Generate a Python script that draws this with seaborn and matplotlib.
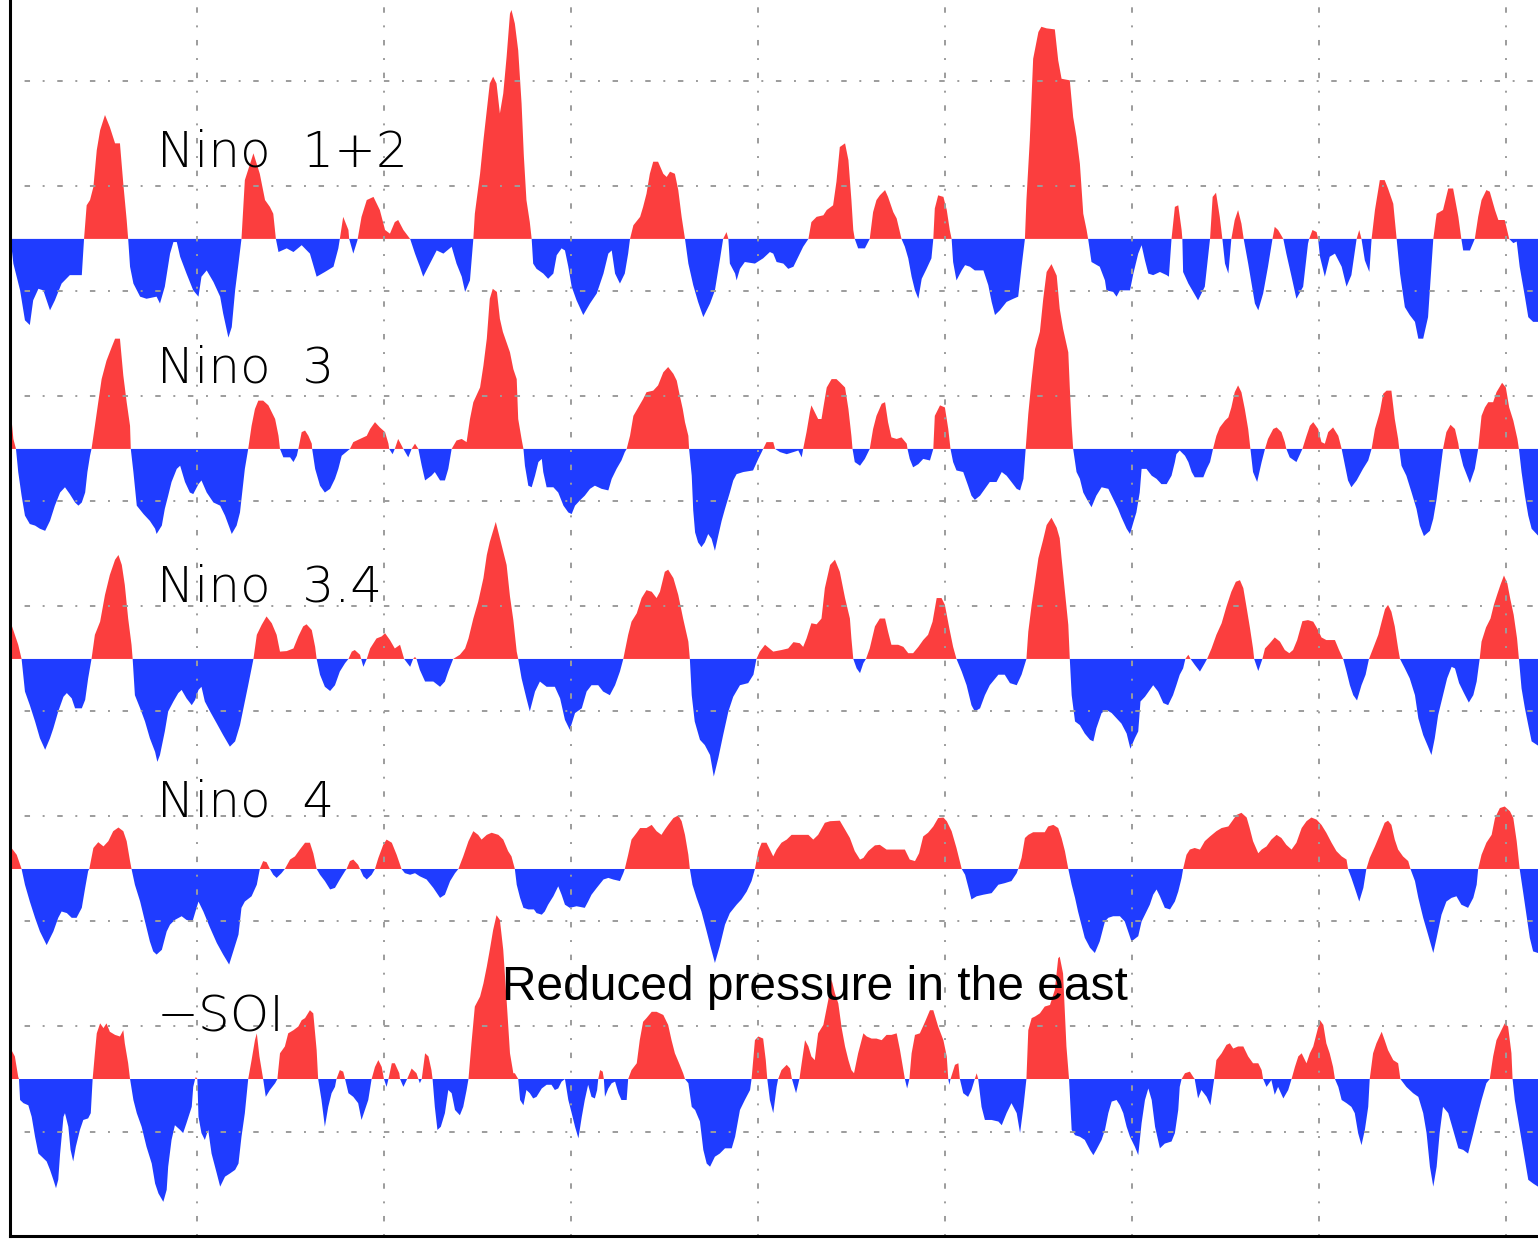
"""Stacked ENSO indices (Nino regions and -SOI), red above / blue below zero."""

import matplotlib
matplotlib.use("Agg")
import matplotlib.pyplot as plt
from matplotlib.ticker import MultipleLocator
import numpy as np
import seaborn as sns

# (decimal year, normalized anomaly)
NINO12 = [
    (1970.04, -0.15), (1970.09, -0.47), (1970.27, -0.98), (1970.40, -1.55), (1970.53, -1.64), (1970.62, -1.17),
    (1970.76, -0.95), (1970.89, -0.98), (1971.07, -1.36), (1971.20, -1.17), (1971.38, -0.85), (1971.60, -0.69),
    (1971.92, -0.69), (1971.98, 0), (1972.05, 0.64), (1972.14, 0.74), (1972.23, 0.99), (1972.32, 1.69),
    (1972.41, 2.07), (1972.54, 2.36), (1972.67, 2.13), (1972.81, 1.82), (1972.94, 1.82), (1973.03, 1.05),
    (1973.12, 0.36), (1973.16, 0), (1973.21, -0.53), (1973.30, -0.85), (1973.48, -1.10), (1973.65, -1.14),
    (1973.92, -1.10), (1974.01, -1.23), (1974.14, -0.91), (1974.28, -0.28), (1974.37, -0.06), (1974.46, -0.06),
    (1974.55, -0.34), (1974.72, -0.66), (1974.90, -0.98), (1975.04, -1.10), (1975.12, -0.72), (1975.26, -0.60),
    (1975.44, -0.82), (1975.62, -1.10), (1975.70, -1.42), (1975.84, -1.88), (1975.93, -1.68), (1976.02, -0.98),
    (1976.11, -0.47), (1976.19, 0), (1976.28, 1.12), (1976.51, 1.63), (1976.68, 1.24), (1976.82, 0.74),
    (1976.95, 0.61), (1977.04, 0.48), (1977.11, 0), (1977.18, -0.25), (1977.40, -0.18), (1977.58, -0.25),
    (1977.80, -0.12), (1978.02, -0.28), (1978.20, -0.72), (1978.42, -0.63), (1978.65, -0.53), (1978.78, -0.18),
    (1978.82, 0), (1978.91, 0.42), (1979.05, 0.17), (1979.07, 0), (1979.18, -0.28), (1979.29, -0.03),
    (1979.40, 0.42), (1979.54, 0.74), (1979.72, 0.80), (1979.89, 0.55), (1980.03, 0.17), (1980.16, 0.10),
    (1980.29, 0.32), (1980.38, 0.36), (1980.52, 0.17), (1980.70, 0), (1980.83, -0.28), (1980.96, -0.53),
    (1981.05, -0.72), (1981.23, -0.47), (1981.41, -0.22), (1981.59, -0.28), (1981.81, -0.15), (1981.94, -0.47),
    (1982.08, -0.72), (1982.17, -1.01), (1982.30, -0.79), (1982.39, 0), (1982.43, 0.48), (1982.57, 1.24),
    (1982.66, 1.88), (1982.75, 2.45), (1982.83, 2.96), (1982.92, 3.09), (1983.01, 2.96), (1983.10, 2.39),
    (1983.19, 2.77), (1983.28, 3.47), (1983.37, 4.29), (1983.41, 4.36), (1983.50, 4.10), (1983.59, 3.59),
    (1983.68, 2.58), (1983.74, 1.59), (1983.81, 0.74), (1983.90, 0.32), (1983.95, 0), (1983.99, -0.47),
    (1984.08, -0.57), (1984.26, -0.66), (1984.39, -0.76), (1984.53, -0.66), (1984.62, -0.31), (1984.75, -0.18),
    (1984.84, -0.22), (1984.93, -0.53), (1985.02, -0.91), (1985.15, -1.17), (1985.33, -1.45), (1985.51, -1.23),
    (1985.69, -1.04), (1985.87, -0.66), (1986.00, -0.28), (1986.09, -0.22), (1986.18, -0.66), (1986.31, -0.85),
    (1986.44, -0.66), (1986.53, -0.28), (1986.58, 0), (1986.67, 0.26), (1986.85, 0.42), (1986.93, 0.61),
    (1987.02, 0.86), (1987.11, 1.24), (1987.20, 1.47), (1987.33, 1.47), (1987.47, 1.24), (1987.56, 1.18),
    (1987.65, 1.28), (1987.78, 1.24), (1987.87, 0.93), (1987.96, 0.42), (1988.05, 0), (1988.14, -0.47),
    (1988.27, -0.88), (1988.40, -1.20), (1988.54, -1.49), (1988.72, -1.23), (1988.85, -0.98), (1988.98, -0.41),
    (1989.07, 0), (1989.16, 0.13), (1989.21, 0), (1989.25, -0.47), (1989.39, -0.66), (1989.43, -0.79),
    (1989.52, -0.57), (1989.65, -0.44), (1989.92, -0.47), (1990.14, -0.37), (1990.32, -0.25), (1990.41, -0.28),
    (1990.50, -0.44), (1990.68, -0.47), (1990.81, -0.57), (1990.95, -0.53), (1991.08, -0.34), (1991.21, -0.15),
    (1991.35, 0), (1991.43, 0.32), (1991.57, 0.42), (1991.75, 0.45), (1991.84, 0.55), (1992.01, 0.64),
    (1992.10, 1.09), (1992.19, 1.75), (1992.33, 1.82), (1992.42, 1.50), (1992.50, 0.74), (1992.55, 0.17),
    (1992.59, 0), (1992.68, -0.18), (1992.86, -0.18), (1992.99, 0), (1993.08, 0.51), (1993.17, 0.74),
    (1993.26, 0.83), (1993.40, 0.93), (1993.48, 0.80), (1993.62, 0.51), (1993.71, 0.39), (1993.84, 0),
    (1993.93, -0.15), (1994.02, -0.37), (1994.11, -0.72), (1994.20, -0.98), (1994.29, -1.14), (1994.38, -0.76),
    (1994.51, -0.57), (1994.64, -0.37), (1994.69, 0), (1994.73, 0.58), (1994.82, 0.83), (1994.96, 0.80),
    (1995.05, 0.55), (1995.13, 0.17), (1995.18, 0), (1995.22, -0.44), (1995.31, -0.79), (1995.45, -0.60),
    (1995.54, -0.50), (1995.67, -0.53), (1995.80, -0.60), (1996.03, -0.60), (1996.16, -0.88), (1996.25, -1.20),
    (1996.34, -1.45), (1996.47, -1.36), (1996.65, -1.20), (1996.83, -1.14), (1996.96, -1.10), (1997.05, -0.53),
    (1997.14, 0), (1997.18, 0.74), (1997.27, 1.88), (1997.36, 3.43), (1997.50, 3.94), (1997.58, 4.04),
    (1997.72, 4.01), (1997.94, 3.99), (1998.03, 3.40), (1998.12, 3.05), (1998.34, 3.02), (1998.43, 2.32),
    (1998.52, 1.94), (1998.61, 1.43), (1998.70, 0.48), (1998.79, 0.17), (1998.83, 0), (1998.92, -0.44),
    (1999.14, -0.53), (1999.28, -0.79), (1999.32, -0.98), (1999.50, -1.01), (1999.59, -1.10), (1999.68, -0.98),
    (1999.95, -0.98), (2000.04, -0.66), (2000.17, -0.28), (2000.26, -0.12), (2000.35, -0.41), (2000.44, -0.66),
    (2000.57, -0.69), (2000.75, -0.63), (2000.93, -0.69), (2000.99, -0.72), (2001.06, 0), (2001.15, 0.61),
    (2001.24, 0.64), (2001.33, 0.17), (2001.35, 0), (2001.37, -0.63), (2001.51, -0.85), (2001.64, -1.01),
    (2001.77, -1.17), (2001.95, -0.91), (2002.09, 0), (2002.16, 0.80), (2002.25, 0.88), (2002.35, 0.42),
    (2002.42, 0), (2002.49, -0.47), (2002.58, -0.66), (2002.66, 0), (2002.75, 0.36), (2002.84, 0.55),
    (2002.93, 0.29), (2002.99, 0), (2003.11, -0.47), (2003.20, -0.85), (2003.29, -1.23), (2003.38, -1.36),
    (2003.51, -1.04), (2003.64, -0.53), (2003.76, 0), (2003.82, 0.23), (2003.91, 0.17), (2004.05, 0),
    (2004.13, -0.28), (2004.27, -0.72), (2004.40, -1.14), (2004.58, -0.91), (2004.71, -0.09), (2004.74, 0),
    (2004.83, 0.17), (2004.94, 0.13), (2004.98, 0), (2005.03, -0.34), (2005.16, -0.72), (2005.29, -0.34),
    (2005.43, -0.28), (2005.61, -0.53), (2005.74, -0.91), (2005.87, -0.69), (2006.01, 0), (2006.08, 0.17),
    (2006.14, 0), (2006.23, -0.41), (2006.35, -0.63), (2006.41, 0), (2006.50, 0.55), (2006.63, 1.12),
    (2006.76, 1.12), (2006.85, 0.96), (2006.99, 0.67), (2007.08, 0), (2007.17, -0.66), (2007.30, -1.30),
    (2007.43, -1.45), (2007.57, -1.58), (2007.66, -1.90), (2007.79, -1.90), (2007.92, -1.49), (2008.01, -0.53),
    (2008.06, 0), (2008.15, 0.48), (2008.32, 0.55), (2008.46, 0.96), (2008.59, 0.96), (2008.73, 0.42),
    (2008.81, 0), (2008.86, -0.22), (2009.04, -0.22), (2009.17, 0), (2009.26, 0.42), (2009.35, 0.74),
    (2009.48, 0.93), (2009.57, 0.90), (2009.71, 0.55), (2009.80, 0.36), (2009.97, 0.36), (2010.09, 0),
    (2010.20, -0.08), (2010.29, -0.05), (2010.37, -0.53), (2010.51, -1.10), (2010.60, -1.49), (2010.73, -1.58),
    (2010.86, -1.58),
]

NINO3 = [
    (1970.04, 0.57), (1970.09, 0.19), (1970.16, 0), (1970.22, -0.44), (1970.31, -0.89), (1970.40, -1.27),
    (1970.53, -1.43), (1970.67, -1.46), (1970.80, -1.52), (1970.94, -1.56), (1971.07, -1.37), (1971.20, -1.08),
    (1971.34, -0.83), (1971.47, -0.73), (1971.60, -0.86), (1971.74, -1.02), (1971.83, -1.08), (1971.92, -1.02),
    (1972.01, -0.83), (1972.07, -0.44), (1972.14, -0.13), (1972.18, 0), (1972.27, 0.44), (1972.36, 0.89),
    (1972.45, 1.33), (1972.58, 1.68), (1972.72, 1.94), (1972.81, 2.10), (1972.94, 2.10), (1973.03, 1.40),
    (1973.12, 0.89), (1973.21, 0.44), (1973.23, 0), (1973.30, -0.44), (1973.39, -1.08), (1973.57, -1.24),
    (1973.74, -1.37), (1973.88, -1.52), (1973.92, -1.62), (1974.06, -1.46), (1974.14, -1.14), (1974.23, -0.89),
    (1974.32, -0.63), (1974.46, -0.38), (1974.55, -0.32), (1974.68, -0.63), (1974.81, -0.83), (1974.90, -0.86),
    (1975.04, -0.67), (1975.12, -0.60), (1975.26, -0.83), (1975.44, -1.02), (1975.62, -1.08), (1975.75, -1.27),
    (1975.88, -1.52), (1975.93, -1.62), (1976.06, -1.46), (1976.15, -1.21), (1976.28, -0.38), (1976.37, 0),
    (1976.46, 0.44), (1976.55, 0.76), (1976.64, 0.92), (1976.77, 0.92), (1976.91, 0.83), (1977.00, 0.70),
    (1977.09, 0.57), (1977.18, 0.25), (1977.22, 0), (1977.31, -0.16), (1977.49, -0.16), (1977.58, -0.25),
    (1977.67, -0.13), (1977.71, 0), (1977.80, 0.32), (1977.89, 0.35), (1977.98, 0.25), (1978.07, 0.10),
    (1978.08, 0), (1978.16, -0.38), (1978.29, -0.70), (1978.42, -0.83), (1978.56, -0.76), (1978.69, -0.57),
    (1978.78, -0.38), (1978.87, -0.13), (1979.09, 0), (1979.18, 0.13), (1979.36, 0.19), (1979.54, 0.25),
    (1979.63, 0.38), (1979.76, 0.51), (1979.89, 0.41), (1980.03, 0.32), (1980.12, 0.10), (1980.14, 0),
    (1980.23, -0.10), (1980.29, 0), (1980.38, 0.19), (1980.52, 0), (1980.65, -0.16), (1980.74, 0),
    (1980.83, 0.10), (1980.92, 0), (1981.01, -0.32), (1981.10, -0.60), (1981.27, -0.51), (1981.36, -0.44),
    (1981.50, -0.60), (1981.63, -0.60), (1981.72, -0.38), (1981.81, 0), (1981.94, 0.16), (1982.08, 0.19),
    (1982.21, 0.13), (1982.30, 0.57), (1982.39, 0.89), (1982.57, 1.17), (1982.66, 1.59), (1982.75, 2.10),
    (1982.83, 2.86), (1982.91, 3.05), (1983.02, 2.99), (1983.10, 2.48), (1983.18, 2.23), (1983.37, 1.84),
    (1983.46, 1.52), (1983.55, 1.33), (1983.59, 0.57), (1983.68, 0.19), (1983.73, 0), (1983.77, -0.32),
    (1983.86, -0.70), (1983.95, -0.73), (1984.04, -0.51), (1984.13, -0.25), (1984.22, -0.19), (1984.26, -0.44),
    (1984.35, -0.73), (1984.53, -0.73), (1984.66, -0.83), (1984.80, -1.08), (1984.93, -1.21), (1985.02, -1.24),
    (1985.11, -1.08), (1985.24, -0.98), (1985.37, -0.89), (1985.51, -0.76), (1985.64, -0.70), (1985.82, -0.76),
    (1986.00, -0.79), (1986.09, -0.57), (1986.22, -0.38), (1986.35, -0.22), (1986.44, -0.06), (1986.49, 0),
    (1986.58, 0.25), (1986.67, 0.63), (1986.80, 0.79), (1986.93, 0.95), (1987.02, 1.08), (1987.20, 1.11),
    (1987.33, 1.21), (1987.47, 1.46), (1987.60, 1.56), (1987.74, 1.43), (1987.83, 1.30), (1987.91, 1.02),
    (1987.99, 0.76), (1988.05, 0.51), (1988.14, 0.25), (1988.16, 0), (1988.23, -0.51), (1988.27, -1.17),
    (1988.32, -1.59), (1988.40, -1.78), (1988.49, -1.87), (1988.58, -1.78), (1988.67, -1.62), (1988.76, -1.71),
    (1988.85, -1.94), (1988.94, -1.65), (1989.03, -1.37), (1989.12, -1.14), (1989.25, -0.83), (1989.34, -0.60),
    (1989.43, -0.48), (1989.61, -0.44), (1989.87, -0.41), (1990.01, -0.19), (1990.10, -0.06), (1990.14, 0),
    (1990.23, 0.13), (1990.41, 0.13), (1990.46, 0), (1990.59, -0.06), (1990.77, -0.10), (1990.95, -0.06),
    (1991.08, -0.03), (1991.17, -0.16), (1991.21, 0), (1991.30, 0.32), (1991.39, 0.70), (1991.43, 0.83),
    (1991.52, 0.70), (1991.61, 0.57), (1991.70, 0.57), (1991.75, 0.79), (1991.84, 1.17), (1991.97, 1.33),
    (1992.10, 1.33), (1992.19, 1.27), (1992.33, 1.17), (1992.42, 0.76), (1992.50, 0.25), (1992.53, 0),
    (1992.59, -0.25), (1992.73, -0.32), (1992.86, -0.19), (1992.99, 0), (1993.08, 0.38), (1993.17, 0.63),
    (1993.31, 0.86), (1993.40, 0.89), (1993.48, 0.51), (1993.57, 0.22), (1993.71, 0.19), (1993.84, 0.22),
    (1993.98, 0.10), (1994.00, 0), (1994.06, -0.19), (1994.15, -0.35), (1994.29, -0.29), (1994.42, -0.19),
    (1994.60, -0.22), (1994.69, 0), (1994.73, 0.63), (1994.87, 0.83), (1995.00, 0.79), (1995.09, 0.38),
    (1995.15, 0), (1995.22, -0.25), (1995.31, -0.41), (1995.49, -0.44), (1995.62, -0.70), (1995.71, -0.89),
    (1995.80, -0.97), (1995.94, -0.89), (1996.07, -0.76), (1996.20, -0.63), (1996.38, -0.63), (1996.52, -0.44),
    (1996.65, -0.51), (1996.78, -0.63), (1996.92, -0.76), (1997.01, -0.79), (1997.10, -0.57), (1997.16, 0),
    (1997.23, 0.67), (1997.32, 1.33), (1997.41, 1.90), (1997.54, 2.23), (1997.63, 2.86), (1997.72, 3.37),
    (1997.85, 3.52), (1997.99, 3.30), (1998.07, 2.67), (1998.16, 2.29), (1998.30, 1.84), (1998.34, 1.17),
    (1998.39, 0.44), (1998.43, 0), (1998.52, -0.44), (1998.61, -0.57), (1998.70, -0.83), (1998.79, -0.95),
    (1998.92, -1.11), (1999.05, -0.89), (1999.19, -0.73), (1999.37, -0.76), (1999.50, -0.95), (1999.63, -1.14),
    (1999.72, -1.30), (1999.86, -1.52), (1999.95, -1.62), (2000.04, -1.40), (2000.12, -1.21), (2000.21, -0.83),
    (2000.26, -0.38), (2000.39, -0.38), (2000.53, -0.51), (2000.66, -0.57), (2000.79, -0.67), (2000.93, -0.67),
    (2001.06, -0.51), (2001.15, -0.25), (2001.19, -0.10), (2001.28, -0.03), (2001.42, -0.13), (2001.51, -0.25),
    (2001.60, -0.44), (2001.68, -0.54), (2001.91, -0.54), (2002.00, -0.38), (2002.09, -0.25), (2002.17, 0),
    (2002.26, 0.25), (2002.35, 0.41), (2002.49, 0.54), (2002.58, 0.60), (2002.66, 0.79), (2002.75, 1.08),
    (2002.84, 1.21), (2002.93, 1.08), (2003.02, 0.76), (2003.11, 0.38), (2003.17, 0), (2003.24, -0.44),
    (2003.35, -0.63), (2003.47, -0.25), (2003.56, 0), (2003.64, 0.19), (2003.78, 0.38), (2003.87, 0.41),
    (2004.00, 0.32), (2004.09, 0.13), (2004.13, 0), (2004.22, -0.16), (2004.40, -0.25), (2004.56, 0),
    (2004.67, 0.25), (2004.76, 0.44), (2004.85, 0.51), (2004.98, 0.38), (2005.07, 0.13), (2005.16, 0.10),
    (2005.25, 0.32), (2005.38, 0.41), (2005.52, 0.25), (2005.61, 0), (2005.70, -0.32), (2005.78, -0.60),
    (2005.87, -0.73), (2006.01, -0.60), (2006.18, -0.38), (2006.32, -0.22), (2006.41, 0), (2006.50, 0.38),
    (2006.63, 0.70), (2006.72, 1.05), (2006.81, 1.11), (2006.94, 1.11), (2007.03, 0.57), (2007.12, 0.19),
    (2007.15, 0), (2007.21, -0.32), (2007.34, -0.51), (2007.48, -0.83), (2007.61, -1.14), (2007.70, -1.46),
    (2007.81, -1.66), (2007.97, -1.56), (2008.06, -1.33), (2008.15, -0.95), (2008.23, -0.51), (2008.32, 0),
    (2008.41, 0.32), (2008.52, 0.46), (2008.64, 0.38), (2008.73, 0.10), (2008.75, 0), (2008.86, -0.32),
    (2009.04, -0.65), (2009.17, -0.38), (2009.26, 0), (2009.35, 0.63), (2009.44, 0.79), (2009.53, 0.89),
    (2009.66, 0.89), (2009.75, 1.08), (2009.90, 1.26), (2010.00, 1.17), (2010.09, 0.79), (2010.20, 0.54),
    (2010.31, 0.19), (2010.35, 0), (2010.42, -0.44), (2010.51, -0.89), (2010.60, -1.27), (2010.69, -1.52),
    (2010.86, -1.65),
]

NINO34 = [
    (1970.04, 0.65), (1970.13, 0.46), (1970.22, 0.27), (1970.31, 0), (1970.40, -0.62), (1970.53, -0.88),
    (1970.67, -1.19), (1970.80, -1.51), (1970.94, -1.73), (1971.07, -1.51), (1971.16, -1.32), (1971.29, -1.00),
    (1971.43, -0.72), (1971.52, -0.65), (1971.65, -0.75), (1971.74, -0.94), (1971.92, -0.94), (1972.01, -0.78),
    (1972.09, -0.37), (1972.18, 0), (1972.27, 0.46), (1972.41, 0.71), (1972.54, 1.22), (1972.67, 1.60),
    (1972.81, 1.89), (1972.90, 1.98), (1972.99, 1.79), (1973.07, 1.41), (1973.16, 0.77), (1973.25, 0.27),
    (1973.28, 0), (1973.34, -0.69), (1973.48, -0.94), (1973.61, -1.19), (1973.74, -1.51), (1973.88, -1.77),
    (1973.94, -1.96), (1974.01, -1.83), (1974.14, -1.38), (1974.23, -1.00), (1974.37, -0.81), (1974.50, -0.65),
    (1974.59, -0.59), (1974.72, -0.75), (1974.86, -0.88), (1974.95, -0.78), (1975.04, -0.59), (1975.12, -0.53),
    (1975.21, -0.81), (1975.35, -1.00), (1975.53, -1.23), (1975.70, -1.45), (1975.88, -1.67), (1976.02, -1.57),
    (1976.15, -1.26), (1976.28, -0.81), (1976.37, -0.50), (1976.46, -0.18), (1976.51, 0), (1976.60, 0.46),
    (1976.73, 0.65), (1976.86, 0.81), (1977.00, 0.68), (1977.13, 0.46), (1977.22, 0.14), (1977.40, 0.15),
    (1977.58, 0.20), (1977.71, 0.43), (1977.84, 0.62), (1977.93, 0.66), (1978.07, 0.55), (1978.16, 0.23),
    (1978.20, 0), (1978.29, -0.30), (1978.42, -0.53), (1978.56, -0.61), (1978.69, -0.50), (1978.82, -0.24),
    (1978.96, -0.08), (1979.05, 0), (1979.14, 0.14), (1979.22, 0.17), (1979.36, 0.08), (1979.39, 0),
    (1979.45, -0.15), (1979.54, 0), (1979.63, 0.20), (1979.80, 0.39), (1979.94, 0.43), (1980.03, 0.49),
    (1980.16, 0.36), (1980.29, 0.20), (1980.43, 0.27), (1980.54, 0), (1980.70, -0.15), (1980.78, 0),
    (1980.83, 0.04), (1980.87, 0), (1980.96, -0.21), (1981.10, -0.43), (1981.32, -0.43), (1981.50, -0.53),
    (1981.63, -0.43), (1981.72, -0.24), (1981.85, 0), (1982.03, 0.08), (1982.17, 0.20), (1982.26, 0.39),
    (1982.39, 0.77), (1982.52, 1.09), (1982.66, 1.54), (1982.75, 1.98), (1982.83, 2.23), (1982.99, 2.61),
    (1983.10, 2.30), (1983.28, 1.79), (1983.37, 1.19), (1983.46, 0.74), (1983.55, 0.14), (1983.59, 0),
    (1983.68, -0.37), (1983.81, -0.75), (1983.90, -1.00), (1984.04, -0.62), (1984.17, -0.43), (1984.35, -0.53),
    (1984.57, -0.53), (1984.71, -0.75), (1984.84, -1.16), (1984.97, -1.35), (1985.11, -1.03), (1985.29, -0.94),
    (1985.42, -0.62), (1985.55, -0.50), (1985.73, -0.50), (1985.86, -0.62), (1986.04, -0.69), (1986.18, -0.50),
    (1986.31, -0.24), (1986.40, 0), (1986.53, 0.46), (1986.62, 0.71), (1986.76, 0.87), (1986.89, 1.16),
    (1987.02, 1.31), (1987.16, 1.28), (1987.29, 1.16), (1987.38, 1.28), (1987.51, 1.66), (1987.60, 1.70),
    (1987.74, 1.54), (1987.87, 1.22), (1988.00, 0.77), (1988.14, 0.33), (1988.18, 0), (1988.23, -0.69),
    (1988.31, -1.19), (1988.45, -1.54), (1988.58, -1.64), (1988.72, -1.83), (1988.82, -2.24), (1988.94, -1.89),
    (1989.07, -1.45), (1989.21, -1.00), (1989.34, -0.72), (1989.52, -0.50), (1989.74, -0.46), (1989.88, -0.30),
    (1989.96, 0), (1990.05, 0.14), (1990.19, 0.27), (1990.41, 0.14), (1990.63, 0.17), (1990.81, 0.20),
    (1990.95, 0.32), (1991.12, 0.30), (1991.21, 0.23), (1991.30, 0.39), (1991.43, 0.68), (1991.57, 0.66),
    (1991.70, 0.77), (1991.79, 1.35), (1991.93, 1.79), (1992.06, 1.89), (1992.19, 1.66), (1992.33, 1.16),
    (1992.46, 0.77), (1992.50, 0.39), (1992.55, 0), (1992.64, -0.18), (1992.73, -0.27), (1992.82, -0.08),
    (1992.89, 0), (1992.99, 0.20), (1993.13, 0.62), (1993.26, 0.77), (1993.40, 0.77), (1993.48, 0.52),
    (1993.57, 0.27), (1993.75, 0.27), (1993.89, 0.23), (1994.02, 0.11), (1994.15, 0.11), (1994.29, 0.23),
    (1994.42, 0.36), (1994.55, 0.46), (1994.67, 0.71), (1994.78, 1.16), (1994.91, 1.16), (1995.00, 1.03),
    (1995.12, 0.58), (1995.22, 0.23), (1995.31, 0), (1995.45, -0.24), (1995.58, -0.50), (1995.71, -0.88),
    (1995.80, -1.00), (1995.94, -0.94), (1996.07, -0.69), (1996.20, -0.50), (1996.43, -0.30), (1996.60, -0.30),
    (1996.74, -0.46), (1996.92, -0.50), (1997.05, -0.30), (1997.18, 0), (1997.23, 0.52), (1997.32, 1.03),
    (1997.41, 1.47), (1997.50, 1.92), (1997.62, 2.25), (1997.72, 2.55), (1997.85, 2.69), (1997.99, 2.50),
    (1998.07, 2.30), (1998.12, 1.92), (1998.21, 1.28), (1998.30, 0.65), (1998.34, 0), (1998.39, -0.69),
    (1998.48, -1.19), (1998.61, -1.26), (1998.74, -1.42), (1998.88, -1.54), (1998.97, -1.57), (1999.05, -1.32),
    (1999.19, -1.03), (1999.32, -0.97), (1999.46, -1.03), (1999.59, -1.13), (1999.72, -1.23), (1999.86, -1.42),
    (1999.96, -1.71), (2000.08, -1.51), (2000.17, -1.38), (2000.23, -0.81), (2000.35, -0.72), (2000.48, -0.59),
    (2000.57, -0.50), (2000.70, -0.62), (2000.84, -0.84), (2000.97, -0.88), (2001.10, -0.69), (2001.19, -0.50),
    (2001.28, -0.30), (2001.37, -0.18), (2001.43, 0), (2001.51, 0.08), (2001.57, 0), (2001.68, -0.11),
    (2001.82, -0.24), (2001.95, -0.08), (2002.01, 0), (2002.13, 0.20), (2002.26, 0.46), (2002.40, 0.68),
    (2002.53, 1.00), (2002.66, 1.28), (2002.78, 1.47), (2002.89, 1.50), (2002.98, 1.35), (2003.07, 0.97),
    (2003.16, 0.58), (2003.24, 0.20), (2003.27, 0), (2003.38, -0.23), (2003.49, 0), (2003.56, 0.20),
    (2003.69, 0.30), (2003.82, 0.41), (2003.96, 0.33), (2004.09, 0.17), (2004.21, 0.11), (2004.31, 0.17),
    (2004.42, 0.36), (2004.56, 0.72), (2004.71, 0.74), (2004.85, 0.71), (2004.98, 0.55), (2005.07, 0.41),
    (2005.20, 0.36), (2005.43, 0.36), (2005.54, 0.17), (2005.65, 0), (2005.74, -0.24), (2005.83, -0.50),
    (2005.92, -0.69), (2006.02, -0.79), (2006.14, -0.50), (2006.25, -0.30), (2006.34, 0), (2006.45, 0.20),
    (2006.59, 0.46), (2006.68, 0.71), (2006.77, 0.95), (2006.85, 1.03), (2006.94, 0.90), (2007.03, 0.62),
    (2007.12, 0.20), (2007.17, 0), (2007.30, -0.18), (2007.43, -0.37), (2007.57, -0.69), (2007.66, -1.13),
    (2007.79, -1.45), (2007.92, -1.67), (2008.01, -1.83), (2008.10, -1.51), (2008.19, -1.07), (2008.32, -0.69),
    (2008.43, -0.37), (2008.55, -0.15), (2008.64, -0.18), (2008.75, -0.46), (2008.88, -0.65), (2009.01, -0.83),
    (2009.13, -0.69), (2009.22, -0.43), (2009.30, 0), (2009.35, 0.33), (2009.47, 0.60), (2009.59, 0.77),
    (2009.68, 1.03), (2009.77, 1.23), (2009.86, 1.42), (2009.95, 1.59), (2010.04, 1.44), (2010.12, 1.14),
    (2010.21, 0.84), (2010.30, 0.39), (2010.35, 0), (2010.42, -0.56), (2010.51, -0.94), (2010.60, -1.26),
    (2010.69, -1.57), (2010.86, -1.65),
]

NINO4 = [
    (1970.04, 0.40), (1970.18, 0.27), (1970.31, 0), (1970.40, -0.30), (1970.53, -0.62), (1970.67, -0.93),
    (1970.80, -1.19), (1970.98, -1.45), (1971.16, -1.19), (1971.29, -0.93), (1971.38, -0.81), (1971.52, -0.84),
    (1971.65, -0.93), (1971.78, -0.93), (1971.92, -0.74), (1972.01, -0.36), (1972.09, -0.04), (1972.12, 0),
    (1972.23, 0.40), (1972.36, 0.51), (1972.50, 0.43), (1972.63, 0.53), (1972.76, 0.72), (1972.90, 0.79),
    (1973.03, 0.72), (1973.12, 0.53), (1973.21, 0.15), (1973.25, 0), (1973.34, -0.30), (1973.48, -0.62),
    (1973.61, -1.00), (1973.74, -1.38), (1973.83, -1.57), (1973.92, -1.63), (1974.06, -1.54), (1974.19, -1.19),
    (1974.28, -1.06), (1974.41, -0.97), (1974.59, -0.90), (1974.72, -0.97), (1974.88, -1.00), (1975.04, -0.62),
    (1975.17, -0.81), (1975.35, -1.12), (1975.53, -1.41), (1975.70, -1.63), (1975.86, -1.82), (1975.97, -1.57),
    (1976.11, -1.25), (1976.19, -0.74), (1976.28, -0.62), (1976.46, -0.52), (1976.60, -0.30), (1976.68, 0),
    (1976.77, 0.15), (1976.86, 0.13), (1976.95, 0), (1977.04, -0.11), (1977.13, -0.17), (1977.26, -0.08),
    (1977.35, 0), (1977.49, 0.18), (1977.62, 0.24), (1977.75, 0.37), (1977.89, 0.50), (1978.02, 0.50),
    (1978.11, 0.30), (1978.20, 0), (1978.29, -0.11), (1978.42, -0.23), (1978.56, -0.39), (1978.69, -0.36),
    (1978.82, -0.20), (1978.96, -0.04), (1979.00, 0), (1979.09, 0.15), (1979.18, 0.18), (1979.31, 0.08),
    (1979.36, 0), (1979.45, -0.14), (1979.54, -0.20), (1979.67, -0.11), (1979.76, 0), (1979.85, 0.21),
    (1979.98, 0.46), (1980.07, 0.56), (1980.21, 0.50), (1980.34, 0.27), (1980.47, 0), (1980.56, -0.08),
    (1980.70, -0.11), (1980.83, -0.08), (1980.96, -0.14), (1981.14, -0.20), (1981.32, -0.36), (1981.50, -0.55),
    (1981.63, -0.49), (1981.77, -0.23), (1981.90, -0.08), (1981.99, 0), (1982.12, 0.24), (1982.26, 0.53),
    (1982.39, 0.72), (1982.52, 0.65), (1982.61, 0.56), (1982.75, 0.65), (1982.88, 0.69), (1983.06, 0.65),
    (1983.19, 0.56), (1983.32, 0.34), (1983.41, 0.24), (1983.50, 0), (1983.55, -0.30), (1983.64, -0.55),
    (1983.73, -0.74), (1983.86, -0.77), (1984.01, -0.77), (1984.08, -0.84), (1984.22, -0.87), (1984.30, -0.81),
    (1984.39, -0.68), (1984.53, -0.52), (1984.66, -0.33), (1984.75, -0.49), (1984.84, -0.68), (1984.97, -0.74),
    (1985.15, -0.71), (1985.37, -0.74), (1985.46, -0.62), (1985.55, -0.49), (1985.69, -0.36), (1985.87, -0.20),
    (1986.00, -0.17), (1986.13, -0.20), (1986.31, -0.23), (1986.40, -0.08), (1986.44, 0), (1986.53, 0.27),
    (1986.62, 0.56), (1986.76, 0.69), (1986.85, 0.78), (1987.02, 0.78), (1987.16, 0.84), (1987.29, 0.72),
    (1987.42, 0.65), (1987.51, 0.75), (1987.60, 0.84), (1987.74, 0.97), (1987.87, 1.02), (1987.96, 0.91),
    (1988.05, 0.65), (1988.14, 0.27), (1988.18, 0), (1988.25, -0.30), (1988.36, -0.55), (1988.49, -0.81),
    (1988.63, -1.19), (1988.73, -1.47), (1988.85, -1.79), (1988.98, -1.47), (1989.12, -1.06), (1989.25, -0.84),
    (1989.43, -0.68), (1989.56, -0.58), (1989.70, -0.43), (1989.83, -0.23), (1989.92, 0), (1990.01, 0.34),
    (1990.10, 0.50), (1990.23, 0.50), (1990.32, 0.37), (1990.41, 0.24), (1990.50, 0.37), (1990.63, 0.50),
    (1990.77, 0.56), (1990.90, 0.65), (1991.12, 0.65), (1991.35, 0.65), (1991.48, 0.56), (1991.61, 0.65),
    (1991.79, 0.88), (1991.93, 0.91), (1992.19, 0.92), (1992.33, 0.75), (1992.46, 0.59), (1992.59, 0.34),
    (1992.73, 0.18), (1992.82, 0.21), (1992.95, 0.34), (1993.13, 0.45), (1993.26, 0.46), (1993.44, 0.37),
    (1993.71, 0.37), (1993.93, 0.37), (1994.06, 0.18), (1994.20, 0.15), (1994.31, 0.30), (1994.42, 0.62),
    (1994.55, 0.69), (1994.69, 0.81), (1994.82, 0.97), (1994.96, 0.98), (1995.05, 0.91), (1995.18, 0.72),
    (1995.31, 0.40), (1995.45, 0), (1995.54, -0.11), (1995.62, -0.33), (1995.71, -0.58), (1995.85, -0.52),
    (1996.03, -0.49), (1996.25, -0.46), (1996.43, -0.30), (1996.60, -0.27), (1996.78, -0.23), (1996.92, -0.08),
    (1996.96, 0), (1997.05, 0.21), (1997.14, 0.59), (1997.23, 0.65), (1997.36, 0.70), (1997.54, 0.70),
    (1997.67, 0.70), (1997.76, 0.81), (1997.90, 0.84), (1998.03, 0.78), (1998.12, 0.59), (1998.21, 0.34),
    (1998.30, 0), (1998.39, -0.30), (1998.48, -0.55), (1998.56, -0.81), (1998.65, -1.06), (1998.74, -1.31),
    (1998.88, -1.50), (1999.01, -1.60), (1999.14, -1.38), (1999.28, -1.00), (1999.37, -0.93), (1999.50, -0.90),
    (1999.68, -0.90), (1999.81, -1.00), (1999.90, -1.19), (1999.99, -1.38), (2000.17, -1.28), (2000.26, -1.00),
    (2000.35, -0.87), (2000.48, -0.68), (2000.57, -0.49), (2000.66, -0.39), (2000.75, -0.52), (2000.88, -0.74),
    (2001.02, -0.77), (2001.15, -0.62), (2001.24, -0.43), (2001.33, -0.17), (2001.37, 0), (2001.46, 0.27),
    (2001.55, 0.37), (2001.68, 0.40), (2001.82, 0.37), (2001.95, 0.53), (2002.09, 0.62), (2002.26, 0.72),
    (2002.40, 0.78), (2002.58, 0.81), (2002.71, 0.94), (2002.80, 1.03), (2002.93, 1.07), (2003.07, 0.98),
    (2003.15, 0.78), (2003.24, 0.53), (2003.38, 0.30), (2003.47, 0.37), (2003.60, 0.43), (2003.73, 0.56),
    (2003.87, 0.65), (2004.00, 0.59), (2004.13, 0.46), (2004.27, 0.37), (2004.40, 0.50), (2004.54, 0.78),
    (2004.67, 0.91), (2004.80, 0.98), (2004.94, 0.94), (2005.07, 0.84), (2005.20, 0.69), (2005.34, 0.50),
    (2005.47, 0.34), (2005.61, 0.24), (2005.74, 0.18), (2005.78, 0), (2005.87, -0.17), (2005.96, -0.36),
    (2006.08, -0.62), (2006.19, -0.36), (2006.27, 0), (2006.36, 0.21), (2006.50, 0.43), (2006.63, 0.65),
    (2006.76, 0.88), (2006.85, 0.92), (2006.94, 0.84), (2007.03, 0.56), (2007.12, 0.37), (2007.25, 0.24),
    (2007.39, 0.15), (2007.45, 0), (2007.57, -0.23), (2007.66, -0.55), (2007.79, -0.93), (2007.92, -1.25),
    (2008.06, -1.60), (2008.15, -1.31), (2008.28, -0.87), (2008.41, -0.62), (2008.55, -0.55), (2008.68, -0.52),
    (2008.81, -0.68), (2008.99, -0.74), (2009.13, -0.55), (2009.22, -0.30), (2009.26, 0), (2009.35, 0.27),
    (2009.48, 0.50), (2009.62, 0.65), (2009.71, 0.97), (2009.84, 1.16), (2009.97, 1.19), (2010.11, 1.10),
    (2010.20, 0.97), (2010.29, 0.53), (2010.37, 0), (2010.46, -0.43), (2010.55, -0.87), (2010.64, -1.31),
    (2010.73, -1.57), (2010.86, -1.60),
]

NEG_SOI = [
    (1970.04, 0.55), (1970.13, 0.43), (1970.22, 0.04), (1970.24, 0), (1970.27, -0.40), (1970.36, -0.46),
    (1970.49, -0.50), (1970.58, -0.72), (1970.67, -1.10), (1970.76, -1.42), (1970.85, -1.48), (1970.98, -1.57),
    (1971.07, -1.73), (1971.16, -1.92), (1971.23, -2.08), (1971.29, -1.92), (1971.34, -1.42), (1971.43, -0.72),
    (1971.47, -0.65), (1971.56, -0.91), (1971.62, -1.35), (1971.69, -1.57), (1971.76, -1.29), (1971.87, -0.97),
    (1971.96, -0.78), (1972.09, -0.75), (1972.16, -0.65), (1972.21, 0), (1972.27, 0.49), (1972.32, 0.87),
    (1972.41, 1.06), (1972.50, 0.97), (1972.58, 1.06), (1972.67, 0.90), (1972.81, 0.84), (1972.94, 0.81),
    (1973.03, 0.93), (1973.07, 0.68), (1973.16, 0.30), (1973.21, 0), (1973.30, -0.40), (1973.39, -0.65),
    (1973.52, -0.91), (1973.65, -1.29), (1973.79, -1.61), (1973.88, -1.99), (1973.97, -2.18), (1974.10, -2.34),
    (1974.19, -2.11), (1974.23, -1.67), (1974.32, -1.16), (1974.41, -0.88), (1974.55, -0.97), (1974.63, -1.03),
    (1974.72, -0.84), (1974.86, -0.53), (1974.90, -0.15), (1974.95, 0), (1974.97, 0.04), (1975.01, 0),
    (1975.04, -0.72), (1975.12, -1.03), (1975.21, -1.16), (1975.30, -0.97), (1975.39, -1.42), (1975.53, -1.80),
    (1975.62, -2.05), (1975.75, -1.86), (1975.88, -1.80), (1976.02, -1.73), (1976.11, -1.61), (1976.19, -1.10),
    (1976.28, -0.65), (1976.37, 0), (1976.46, 0.36), (1976.55, 0.74), (1976.60, 0.87), (1976.67, 0.43),
    (1976.77, 0), (1976.84, -0.34), (1976.95, -0.21), (1977.09, -0.08), (1977.15, 0), (1977.22, 0.49),
    (1977.35, 0.62), (1977.44, 0.87), (1977.58, 0.93), (1977.71, 1.00), (1977.80, 1.12), (1977.89, 1.16),
    (1978.02, 1.31), (1978.11, 1.25), (1978.20, 0.55), (1978.24, 0), (1978.33, -0.40), (1978.42, -0.91),
    (1978.51, -0.53), (1978.60, -0.27), (1978.69, -0.15), (1978.73, 0), (1978.82, 0.17), (1978.91, 0.14),
    (1978.96, 0), (1979.05, -0.27), (1979.18, -0.34), (1979.31, -0.46), (1979.40, -0.78), (1979.49, -0.59),
    (1979.58, -0.40), (1979.67, 0), (1979.76, 0.23), (1979.85, 0.36), (1979.94, 0.23), (1980.00, 0),
    (1980.07, -0.15), (1980.12, 0), (1980.21, 0.30), (1980.29, 0.30), (1980.41, 0.11), (1980.43, 0),
    (1980.52, -0.15), (1980.62, 0), (1980.74, 0.20), (1980.87, 0.11), (1980.92, 0), (1980.96, -0.08),
    (1981.01, 0), (1981.10, 0.49), (1981.19, 0.43), (1981.27, 0.17), (1981.30, 0), (1981.36, -0.53),
    (1981.43, -0.97), (1981.52, -0.91), (1981.63, -0.65), (1981.72, -0.21), (1981.81, -0.27), (1981.90, -0.59),
    (1982.03, -0.69), (1982.12, -0.53), (1982.21, -0.21), (1982.26, 0), (1982.34, 0.68), (1982.43, 1.38),
    (1982.57, 1.57), (1982.66, 1.82), (1982.75, 2.14), (1982.83, 2.46), (1982.92, 2.84), (1983.01, 3.12),
    (1983.10, 3.03), (1983.19, 2.46), (1983.28, 1.50), (1983.37, 0.49), (1983.46, 0.11), (1983.50, 0.11),
    (1983.59, 0), (1983.64, -0.40), (1983.73, -0.50), (1983.81, -0.21), (1983.90, -0.27), (1983.99, -0.37),
    (1984.08, -0.34), (1984.22, -0.18), (1984.35, -0.11), (1984.48, -0.11), (1984.57, -0.21), (1984.66, -0.18),
    (1984.75, -0.05), (1984.84, 0), (1984.93, -0.40), (1985.02, -0.65), (1985.11, -0.91), (1985.20, -1.13),
    (1985.29, -0.72), (1985.37, -0.40), (1985.46, -0.11), (1985.55, -0.34), (1985.64, -0.37), (1985.70, -0.21),
    (1985.73, 0), (1985.78, 0.17), (1985.85, 0.14), (1985.88, 0), (1985.91, -0.34), (1986.00, -0.18),
    (1986.09, -0.08), (1986.18, -0.05), (1986.27, -0.27), (1986.35, -0.40), (1986.49, -0.40), (1986.53, 0),
    (1986.62, 0.17), (1986.76, 0.30), (1986.84, 0.74), (1986.93, 1.09), (1987.02, 1.16), (1987.16, 1.28),
    (1987.29, 1.28), (1987.47, 1.22), (1987.60, 1.03), (1987.69, 0.74), (1987.78, 0.49), (1987.91, 0.27),
    (1988.00, 0.11), (1988.05, 0), (1988.14, -0.08), (1988.23, -0.53), (1988.32, -0.59), (1988.45, -0.81),
    (1988.54, -1.35), (1988.63, -1.61), (1988.72, -1.67), (1988.85, -1.48), (1988.98, -1.42), (1989.12, -1.32),
    (1989.30, -1.32), (1989.39, -1.10), (1989.52, -0.59), (1989.65, -0.40), (1989.79, -0.21), (1989.83, 0),
    (1989.92, 0.74), (1990.01, 0.81), (1990.14, 0.77), (1990.21, 0.36), (1990.25, 0), (1990.32, -0.40),
    (1990.41, -0.65), (1990.50, -0.15), (1990.54, 0), (1990.63, 0.17), (1990.77, 0.27), (1990.86, 0.20),
    (1990.91, 0), (1991.02, -0.27), (1991.11, 0), (1991.17, 0.30), (1991.26, 0.74), (1991.35, 0.62),
    (1991.43, 0.43), (1991.52, 0.36), (1991.61, 0.87), (1991.75, 1.03), (1991.88, 1.50), (1991.97, 1.89),
    (1992.06, 1.63), (1992.15, 1.44), (1992.24, 0.97), (1992.33, 0.62), (1992.42, 0.36), (1992.50, 0.17),
    (1992.57, 0.11), (1992.68, 0.49), (1992.82, 0.87), (1992.91, 0.81), (1993.04, 0.77), (1993.17, 0.77),
    (1993.31, 0.74), (1993.44, 0.84), (1993.57, 0.84), (1993.71, 0.87), (1993.80, 0.55), (1993.89, 0.17),
    (1993.93, 0), (1993.99, -0.18), (1994.05, 0), (1994.11, 0.49), (1994.20, 0.84), (1994.33, 0.87),
    (1994.47, 1.09), (1994.60, 1.31), (1994.69, 1.31), (1994.82, 1.00), (1994.96, 0.74), (1995.05, 0.43),
    (1995.09, 0), (1995.12, -0.11), (1995.15, 0), (1995.27, 0.27), (1995.36, 0.30), (1995.40, 0),
    (1995.49, -0.27), (1995.62, -0.34), (1995.71, -0.21), (1995.80, 0), (1995.85, 0.11), (1995.89, 0),
    (1995.98, -0.53), (1996.07, -0.78), (1996.25, -0.78), (1996.43, -0.81), (1996.52, -0.88), (1996.65, -0.65),
    (1996.78, -0.46), (1996.92, -0.65), (1997.01, -1.03), (1997.10, -0.53), (1997.18, 0), (1997.23, 0.93),
    (1997.32, 1.16), (1997.41, 1.19), (1997.54, 1.25), (1997.67, 1.38), (1997.81, 1.41), (1997.94, 1.70),
    (1998.03, 2.30), (1998.07, 2.33), (1998.16, 2.01), (1998.25, 0.62), (1998.32, 0), (1998.39, -0.97),
    (1998.48, -1.07), (1998.61, -1.10), (1998.74, -1.16), (1998.88, -1.35), (1998.97, -1.45), (1999.05, -1.35),
    (1999.19, -1.16), (1999.28, -0.97), (1999.37, -0.65), (1999.46, -0.43), (1999.59, -0.40), (1999.68, -0.50),
    (1999.77, -0.65), (1999.86, -0.91), (1999.95, -1.10), (2000.08, -1.29), (2000.17, -1.45), (2000.26, -0.84),
    (2000.35, -0.40), (2000.44, -0.18), (2000.53, -0.40), (2000.62, -0.91), (2000.75, -1.32), (2000.88, -1.23),
    (2001.06, -1.19), (2001.15, -1.03), (2001.24, -0.59), (2001.28, -0.15), (2001.33, 0), (2001.42, 0.11),
    (2001.55, 0.14), (2001.64, 0.04), (2001.68, 0), (2001.77, -0.37), (2001.86, -0.21), (2002.00, -0.34),
    (2002.10, -0.50), (2002.17, -0.15), (2002.20, 0), (2002.26, 0.36), (2002.40, 0.49), (2002.53, 0.65),
    (2002.62, 0.68), (2002.71, 0.58), (2002.84, 0.62), (2002.98, 0.62), (2003.11, 0.43), (2003.24, 0.30),
    (2003.38, 0.30), (2003.47, 0.17), (2003.51, 0), (2003.60, -0.15), (2003.73, -0.02), (2003.82, -0.30),
    (2003.91, -0.15), (2004.05, -0.37), (2004.18, -0.21), (2004.27, 0), (2004.36, 0.23), (2004.45, 0.43),
    (2004.54, 0.49), (2004.67, 0.30), (2004.76, 0.49), (2004.85, 0.62), (2004.94, 0.87), (2005.03, 1.12),
    (2005.12, 1.03), (2005.20, 0.68), (2005.29, 0.49), (2005.38, 0.23), (2005.43, 0), (2005.52, -0.15),
    (2005.61, -0.40), (2005.74, -0.46), (2005.87, -0.53), (2005.96, -0.65), (2006.05, -1.03), (2006.14, -1.26),
    (2006.23, -0.97), (2006.32, -0.53), (2006.36, 0), (2006.45, 0.49), (2006.54, 0.68), (2006.68, 0.90),
    (2006.76, 0.74), (2006.85, 0.55), (2006.99, 0.36), (2007.12, 0.30), (2007.18, 0), (2007.34, -0.15),
    (2007.52, -0.27), (2007.66, -0.34), (2007.79, -0.65), (2007.88, -1.03), (2007.97, -1.67), (2008.06, -2.05),
    (2008.15, -1.67), (2008.23, -1.03), (2008.32, -0.53), (2008.46, -0.65), (2008.59, -0.97), (2008.73, -1.32),
    (2008.86, -1.35), (2008.99, -1.42), (2009.13, -1.03), (2009.26, -0.65), (2009.35, -0.40), (2009.48, -0.08),
    (2009.57, 0), (2009.66, 0.43), (2009.75, 0.74), (2009.84, 0.87), (2009.97, 1.06), (2010.06, 1.00),
    (2010.15, 0.49), (2010.18, 0), (2010.24, -0.40), (2010.33, -0.78), (2010.42, -1.16), (2010.51, -1.54),
    (2010.60, -1.92), (2010.73, -1.99), (2010.86, -2.05),
]

LABELS = ["Nino  1+2", "Nino  3", "Nino  3.4", "Nino  4", "\u2212SOI"]
OFFSETS = [16, 12, 8, 4, 0]
LABEL_RISE = [1.37, 1.26, 1.09, 0.99, 0.90]
NOTE = "Reduced pressure in the east"

RED = "#fb3e3e"
BLUE = "#1f3cff"
GRID = "#9c9c9c"

sns.set_style("white")
plt.rcParams["font.family"] = ["DejaVu Sans"]

fig = plt.figure(figsize=(15.38, 12.4), dpi=100)
ax = fig.add_axes([10 / 1538, 4 / 1240, 1528 / 1538, 1236 / 1240])

for series, off in zip([NINO12, NINO3, NINO34, NINO4, NEG_SOI], OFFSETS):
    yrs, vals = np.array(series).T
    ax.fill_between(yrs, off, off + vals, where=vals >= 0, interpolate=True,
                    color=RED, lw=0, zorder=1)
    ax.fill_between(yrs, off, off + vals, where=vals <= 0, interpolate=True,
                    color=BLUE, lw=0, zorder=1)

ax.set_xlim(1970.0, 2010.86)
ax.set_ylim(-2.99, 20.55)

grid_style = dict(color=GRID, lw=1.4, linestyle=(0, (1.0, 6.5, 2.8, 6.5)), zorder=2)
for yr in range(1975, 2011, 5):
    ax.axvline(yr, **grid_style)
for level in range(-1, 21, 2):
    ax.axhline(level, **grid_style)

for label, off, rise in zip(LABELS, OFFSETS, LABEL_RISE):
    ax.text(1973.93, off + rise, label, fontsize=36, family=["DejaVu Sans"],
            fontweight=200, color="black", va="baseline", zorder=4)

ax.text(1983.16, 1.5, NOTE, fontsize=34.5, family=["Liberation Sans", "DejaVu Sans"],
        color="black", va="baseline", zorder=4)

sns.despine(ax=ax, top=True, right=True)
for side in ("left", "bottom"):
    ax.spines[side].set_linewidth(2.2)
    ax.spines[side].set_color("black")
ax.xaxis.set_major_locator(MultipleLocator(5))
ax.xaxis.set_minor_locator(MultipleLocator(5 / 12))
ax.yaxis.set_major_locator(MultipleLocator(1))
ax.yaxis.set_minor_locator(MultipleLocator(0.2))
ax.tick_params(which="both", direction="in", labelleft=False, labelbottom=False,
               color="black", width=1.2)
ax.tick_params(which="major", length=6)
ax.tick_params(which="minor", length=3)

fig.savefig("out.png", dpi=100)
plt.close(fig)
